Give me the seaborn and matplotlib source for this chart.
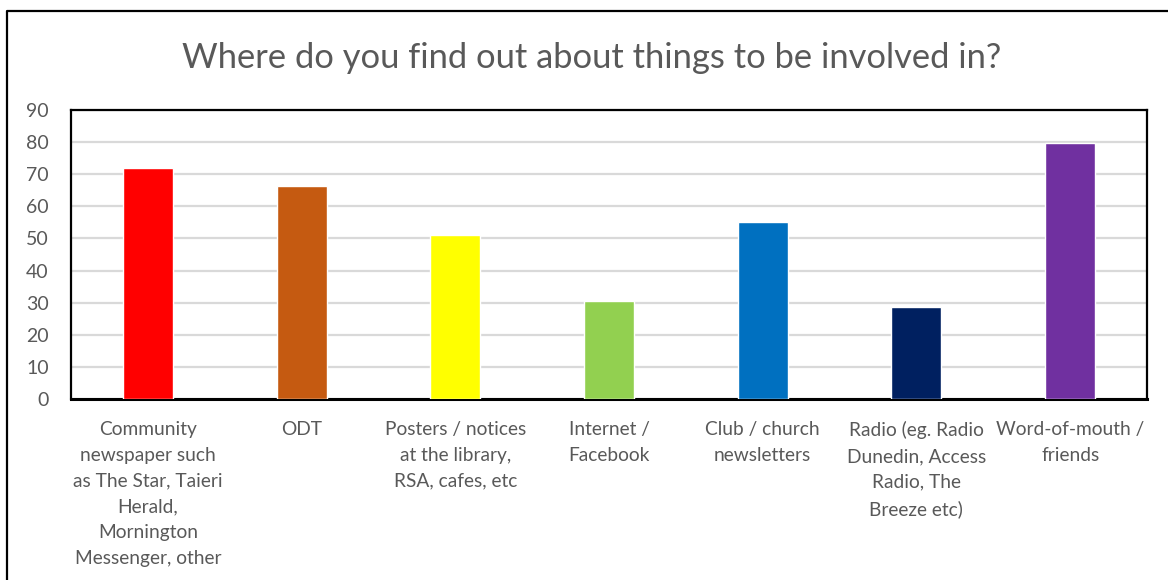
import matplotlib
matplotlib.use("Agg")
import matplotlib.pyplot as plt
from matplotlib.lines import Line2D
import seaborn as sns
import pandas as pd

# Survey responses: where people hear about things to get involved in
categories = [
    "Community\nnewspaper such\nas The Star, Taieri\nHerald,\nMornington\nMessenger, other",
    "ODT",
    "Posters / notices\nat the library,\nRSA, cafes, etc",
    "Internet /\nFacebook",
    "Club / church\nnewsletters",
    "Radio (eg. Radio\nDunedin, Access\nRadio, The\nBreeze etc)",
    "Word-of-mouth /\nfriends",
]
values = [72.0, 66.3, 51.0, 30.4, 55.0, 28.5, 79.6]
colors = ["#FF0000", "#C55A11", "#FFFF00", "#92D050", "#0070C0", "#002060", "#7030A0"]
y_ticks = [0, 10, 20, 30, 40, 50, 60, 70, 80, 90]
title = "Where do you find out about things to be involved in?"

sns.set_theme(style="white")
plt.rcParams["font.family"] = ["Lato", "DejaVu Sans"]

df = pd.DataFrame({"source": categories, "count": values})

fig = plt.figure(figsize=(11.68, 5.80), dpi=100)
ax = fig.add_axes([71 / 1168, 1 - 399 / 580, (1147 - 71) / 1168, (399 - 110) / 580])

sns.barplot(data=df, x="source", y="count", hue="source", palette=colors,
            width=0.325, legend=False, ax=ax, saturation=1, zorder=3)

ax.set_ylim(0, 90)
ax.set_yticks(y_ticks)
ax.set_xlim(-0.5, len(categories) - 0.5)
ax.yaxis.grid(True, color="#D9D9D9", linewidth=1.6, zorder=0)
ax.set_axisbelow(True)
ax.set_xlabel("")
ax.set_ylabel("")

ax.tick_params(axis="y", length=0, pad=16, labelsize=14, labelcolor="#595959")
ax.tick_params(axis="x", length=0, pad=16, labelsize=13.8, labelcolor="#595959")
for lbl in ax.get_xticklabels():
    lbl.set_multialignment("center")
    lbl.set_linespacing(1.62)
    lbl.set_verticalalignment("top")

for side in ["left", "right", "top"]:
    ax.spines[side].set_visible(True)
    ax.spines[side].set_color("black")
    ax.spines[side].set_linewidth(1.6)
ax.spines["bottom"].set_color("black")
ax.spines["bottom"].set_linewidth(2.2)

fig.text(592 / 1168, 1 - 58 / 580, title, ha="center", va="center",
         fontsize=24.8, color="#595959")

# Chart frame border (left and top edges)
fig.add_artist(Line2D([7 / 1168, 7 / 1168, 1.0], [0.0, 1 - 11 / 580, 1 - 11 / 580],
                      transform=fig.transFigure, color="black", linewidth=1.6))

fig.savefig("out.png", dpi=100)
